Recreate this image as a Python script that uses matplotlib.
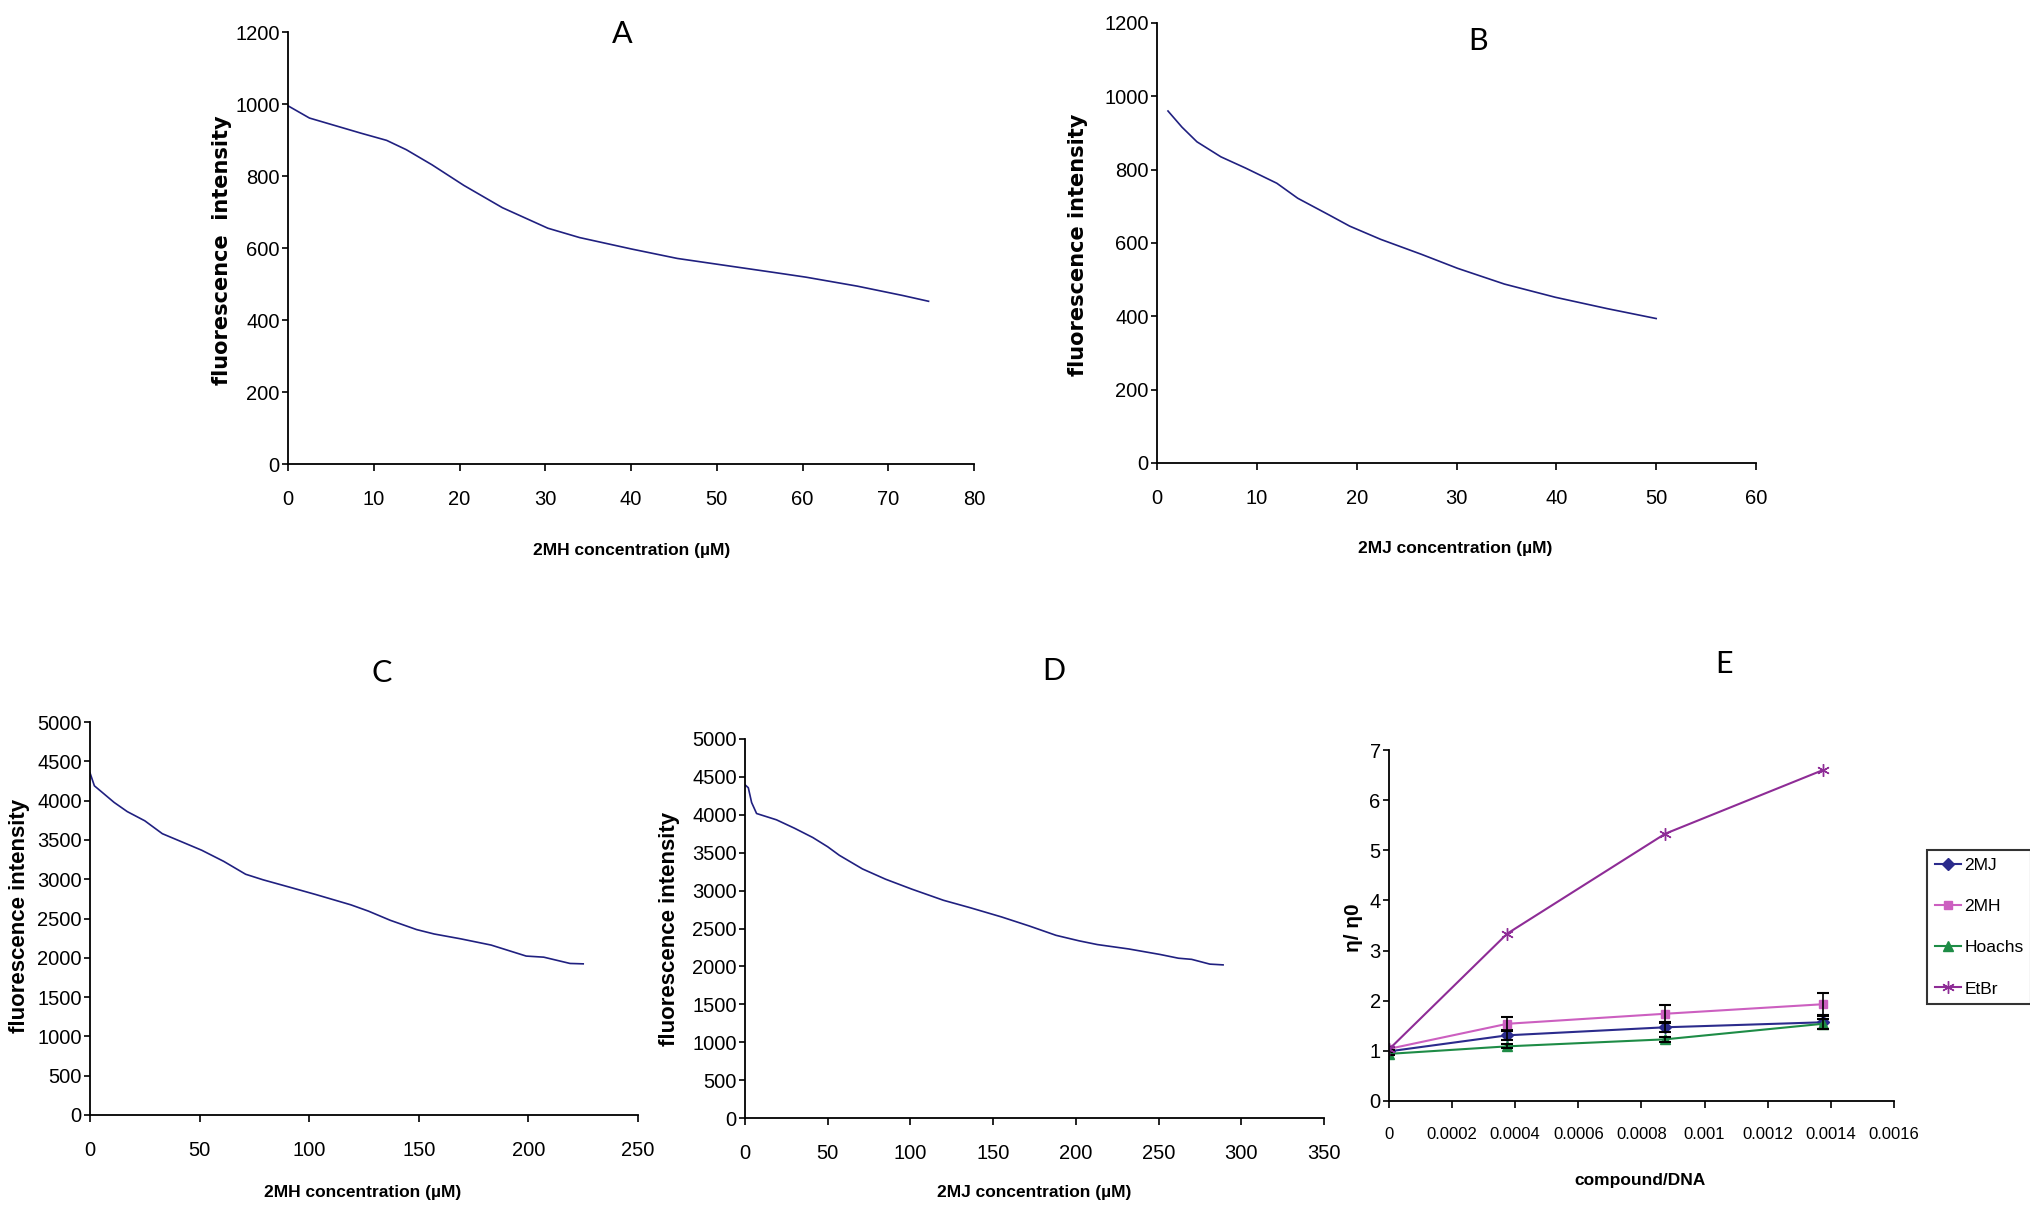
import matplotlib
matplotlib.use("Agg")
import matplotlib.pyplot as plt

#### data ####
a_x = [0, 2.5, 5.5, 8.5, 11.5, 13.8, 16.8, 20.5, 25, 30.3, 34, 40.1, 45.4, 50.6, 56.7, 60.4, 66.4, 71.7, 74.7]
a_y = [995, 961, 940, 919, 899, 873, 831, 774, 712, 655, 629, 597, 571, 553, 532, 519, 494, 468, 452]

b_x = [1.1, 2.5, 4.0, 6.4, 8.9, 12.0, 14.1, 17.2, 19.3, 22.4, 26.5, 30.1, 34.8, 39.9, 45.1, 50.0]
b_y = [960, 916, 876, 835, 804, 763, 722, 677, 646, 610, 569, 531, 488, 452, 421, 394]

c_x = [0, 2, 5, 11, 17, 25, 33, 43, 51, 61, 71, 79, 91, 103, 119, 127, 137, 149, 157, 169, 183, 199, 207, 219, 225]
c_y = [4353, 4188, 4118, 3977, 3860, 3743, 3579, 3462, 3368, 3227, 3063, 2992, 2899, 2805, 2674, 2594,
       2477, 2359, 2303, 2242, 2162, 2022, 2008, 1928, 1923]

d_x = [0, 2, 4, 7, 19, 30, 41, 50, 57, 71, 85, 101, 120, 136, 155, 172, 188, 202, 213, 232, 251, 262, 270, 281, 289]
d_y = [4396, 4357, 4162, 4017, 3934, 3822, 3700, 3578, 3466, 3286, 3150, 3018, 2872, 2775, 2653, 2532,
       2410, 2337, 2288, 2230, 2157, 2108, 2093, 2030, 2020]

e_x = [0, 0.000375, 0.000875, 0.001375]
e_names = ["2MJ", "2MH", "Hoachs", "EtBr"]
e_2mj = [0.99, 1.31, 1.47, 1.57]
e_2mj_err = [0.03, 0.10, 0.09, 0.14]
e_2mh = [1.04, 1.54, 1.74, 1.93]
e_2mh_err = [0.03, 0.14, 0.17, 0.23]
e_hoachs = [0.94, 1.09, 1.23, 1.54]
e_hoachs_err = [0.03, 0.04, 0.05, 0.10]
e_etbr = [1.03, 3.34, 5.33, 6.60]

e_xticks = [0, 0.0002, 0.0004, 0.0006, 0.0008, 0.001, 0.0012, 0.0014, 0.0016]
e_xticklabels = ["0", "0.0002", "0.0004", "0.0006", "0.0008", "0.001", "0.0012", "0.0014", "0.0016"]

#### style ####
W, H = 2031, 1212
NARROW = ["Liberation Sans Narrow", "Liberation Sans"]
line_col = "#202080"

fig = plt.figure(figsize=(W / 100, H / 100), dpi=100)


def box(l, t, r, b):
    # pixel box -> figure fractions
    return [l / W, 1 - b / H, (r - l) / W, (b - t) / H]


def px(x, y):
    return x / W, 1 - y / H


def style_axes(ax, xticks, yticks, xlabels=None, xsize=14.5):
    for s in ["top", "right"]:
        ax.spines[s].set_visible(False)
    for s in ["left", "bottom"]:
        ax.spines[s].set_linewidth(1.3)
        ax.spines[s].set_color("black")
    ax.set_xticks(xticks)
    ax.set_yticks(yticks)
    if xlabels is not None:
        ax.set_xticklabels(xlabels)
    ax.set_xlim(xticks[0], xticks[-1])
    ax.set_ylim(yticks[0], yticks[-1])
    ax.tick_params(axis="x", direction="out", length=5, width=1.2, pad=14)
    ax.tick_params(axis="y", direction="out", length=4, width=1.2, pad=2)
    for lab in ax.get_xticklabels():
        lab.set_family(NARROW)
        lab.set_fontsize(xsize)
    for lab in ax.get_yticklabels():
        lab.set_family(NARROW)
        lab.set_fontsize(14.5)


def curve_panel(rect, x, y, xticks, yticks, letter, letter_pos, xlab, xlab_pos, ylab, ylab_pos, yfont, ysize):
    ax = fig.add_axes(box(*rect))
    ax.plot(x, y, color=line_col, lw=1.2)
    style_axes(ax, xticks, yticks)
    fig.text(*px(*letter_pos), letter, family="Lato", fontsize=22, ha="center", va="center")
    fig.text(*px(*xlab_pos), xlab, family=NARROW, fontweight="bold", fontsize=12.5, ha="center", va="center")
    fig.text(*px(*ylab_pos), ylab, family=yfont, fontweight="bold", fontsize=ysize,
             rotation=90, ha="center", va="center")
    return ax


curve_panel((288, 32, 974, 464), a_x, a_y, list(range(0, 81, 10)), list(range(0, 1201, 200)),
            "A", (622, 34), "2MH concentration (µM)", (632, 550),
            "fluorescence  intensity", (222, 250), "DejaVu Sans", 15)

curve_panel((1157, 23, 1756, 463), b_x, b_y, list(range(0, 61, 10)), list(range(0, 1201, 200)),
            "B", (1478, 41), "2MJ concentration (µM)", (1455, 548),
            "fluorescence intensity", (1078, 245), "DejaVu Sans", 15)

curve_panel((90, 722, 638, 1115), c_x, c_y, list(range(0, 251, 50)), list(range(0, 5001, 500)),
            "C", (382, 673), "2MH concentration (µM)", (363, 1193),
            "fluorescence intensity", (20, 916), "Liberation Sans", 16)

curve_panel((745, 739, 1324, 1118), d_x, d_y, list(range(0, 351, 50)), list(range(0, 5001, 500)),
            "D", (1054, 671), "2MJ concentration (µM)", (1034, 1193),
            "fluorescence intensity", (670, 929), "Liberation Sans", 16)

#### panel E ####
axe = fig.add_axes(box(1389, 750, 1894, 1101))
series = [
    (e_2mj, e_2mj_err, "#2b2b8c", "D", 6),
    (e_2mh, e_2mh_err, "#cc5fc0", "s", 6),
    (e_hoachs, e_hoachs_err, "#1e8c46", "^", 7),
    (e_etbr, None, "#8e2c96", (6, 2, 0), 9),
]
for (vals, err, col, mk, ms), name in zip(series, e_names):
    axe.plot(e_x, vals, color=col, lw=1.5, marker=mk, ms=ms, mec=col, mfc=col, label=name)
    if err is not None:
        axe.errorbar(e_x, vals, yerr=err, fmt="none", ecolor="black", elinewidth=1.2, capsize=4, capthick=1.5)
style_axes(axe, e_xticks, list(range(0, 8)), e_xticklabels, xsize=12)
fig.text(*px(1724, 664), "E", family="Lato", fontsize=22, ha="center", va="center")
fig.text(*px(1640, 1180), "compound/DNA", family=NARROW, fontweight="bold", fontsize=12.5, ha="center", va="center")
fig.text(*px(1354, 928), "η/ η0", family="Liberation Sans", fontweight="bold", fontsize=15,
         rotation=90, ha="center", va="center")

leg = axe.legend(loc="upper left", bbox_to_anchor=px(1927, 850), bbox_transform=fig.transFigure,
                 borderaxespad=0, fancybox=False, frameon=True, handlelength=1.5, handletextpad=0.2,
                 labelspacing=1.5, borderpad=0.45, prop={"family": NARROW, "size": 12.5})
leg.get_frame().set_edgecolor("black")
leg.get_frame().set_linewidth(1.5)

fig.savefig("out.png", dpi=100)
